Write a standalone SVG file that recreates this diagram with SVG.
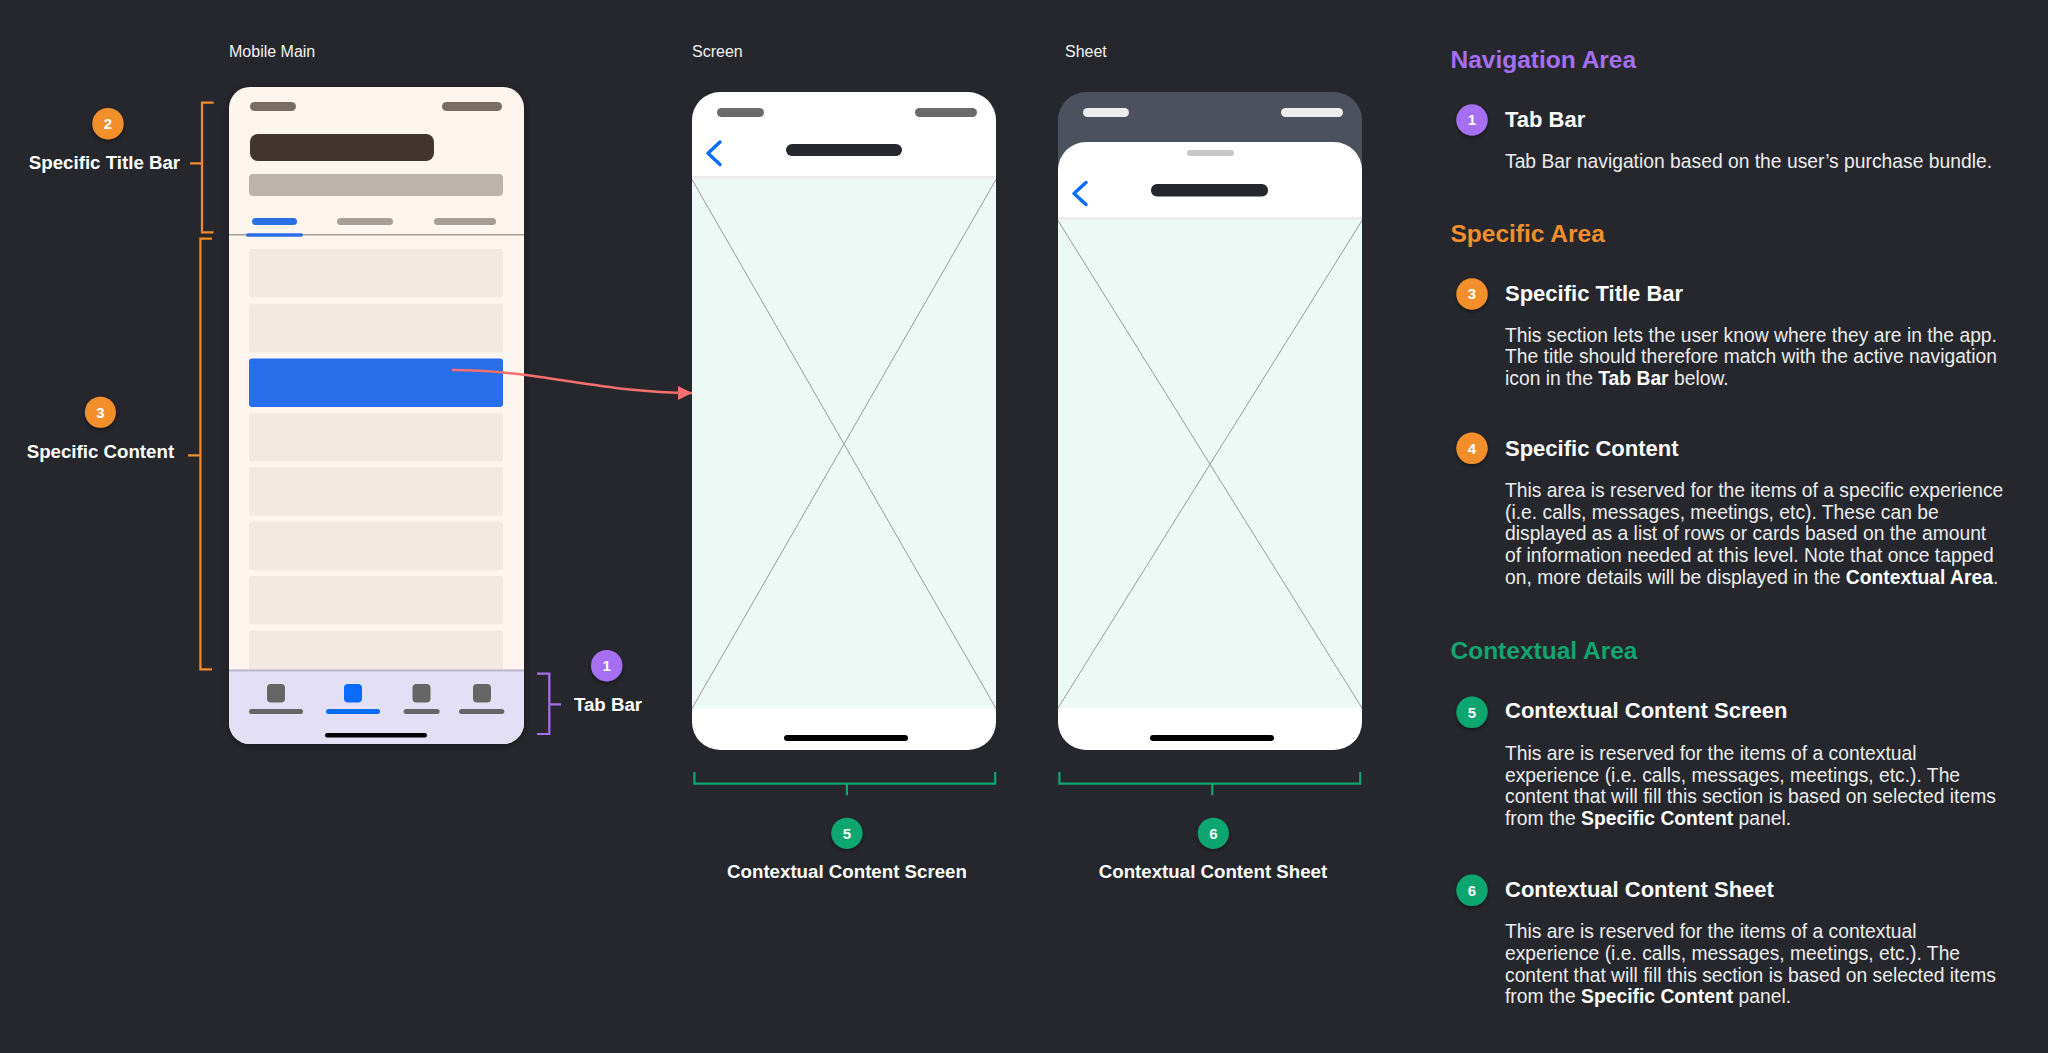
<svg xmlns="http://www.w3.org/2000/svg" width="2048" height="1053" viewBox="0 0 2048 1053">
<style>
text{font-family:"Liberation Sans",Arial,sans-serif}
.cap{font-size:16px;fill:#f2f2f2}
.lbl{font-size:18.7px;font-weight:bold;fill:#ffffff;text-anchor:middle}
.num{font-size:15px;font-weight:bold;fill:#ffffff;text-anchor:middle}
.sec{font-size:24.5px;font-weight:bold}
.hd{font-size:22px;font-weight:bold;fill:#ffffff}
.ds{font-size:19.3px;fill:#ececec}
.b{font-weight:bold;fill:#ffffff}
.or{fill:#f28f2c}.pu{fill:#a66ef0}.gr{fill:#10a56f}
.brO{fill:none;stroke:#f28c28;stroke-width:2.2}
.brP{fill:none;stroke:#a66ef0;stroke-width:2.2}
.brG{fill:none;stroke:#10a56f;stroke-width:2.2}
.card{fill:#f2e9e3}
.xl{stroke:#9a9a9a;stroke-width:1;fill:none}
.mint{fill:#edf9f4}
</style>
<defs>
<filter id="sh" x="-50%" y="-50%" width="200%" height="200%">
<feDropShadow dx="0" dy="2" stdDeviation="2" flood-color="#000" flood-opacity="0.45"/>
</filter>
<filter id="psh" x="-10%" y="-10%" width="120%" height="120%">
<feDropShadow dx="0" dy="2" stdDeviation="4" flood-color="#000" flood-opacity="0.35"/>
</filter>
<clipPath id="cMain"><rect x="229" y="87" width="295" height="657" rx="21"/></clipPath>
<clipPath id="cScreen"><rect x="692" y="92" width="304" height="658" rx="28"/></clipPath>
<clipPath id="cSheet"><rect x="1058" y="92" width="304" height="658" rx="28"/></clipPath>
<marker id="arr" markerUnits="userSpaceOnUse" markerWidth="14" markerHeight="14" refX="14" refY="7" orient="auto">
<path d="M0,0 L14,7 L0,14 z" fill="#f7706f"/>
</marker>
</defs>
<rect width="2048" height="1053" fill="#25272c"/>

<!-- Frame captions -->
<text class="cap" x="229" y="57">Mobile Main</text>
<text class="cap" x="692" y="57">Screen</text>
<text class="cap" x="1065" y="57">Sheet</text>

<!-- Mobile Main phone -->
<g id="mobile-main">
<rect x="229" y="87" width="295" height="657" rx="21" fill="#fff5ef" filter="url(#psh)"/>
<g clip-path="url(#cMain)">
<rect x="250" y="102" width="46" height="9" rx="4.5" fill="#7a6d64"/>
<rect x="442" y="102" width="60" height="9" rx="4.5" fill="#7a6d64"/>
<rect x="250" y="134" width="184" height="27" rx="8" fill="#43362f"/>
<rect x="249" y="174" width="254" height="22" rx="4" fill="#beb4ab"/>
<rect x="252" y="218" width="45" height="7" rx="3.5" fill="#2a6fe8"/>
<rect x="337" y="218" width="56" height="7" rx="3.5" fill="#a89e98"/>
<rect x="434" y="218" width="62" height="7" rx="3.5" fill="#a89e98"/>
<rect x="229" y="234" width="295" height="1.5" fill="#a89e98"/>
<rect x="246" y="233.3" width="57" height="3.4" rx="1.7" fill="#2a6fe8"/>
<rect class="card" x="249" y="249" width="254" height="48.5" rx="3"/>
<rect class="card" x="249" y="303.7" width="254" height="48.5" rx="3"/>
<rect x="249" y="358.5" width="254" height="48.5" rx="3" fill="#276eea"/>
<rect class="card" x="249" y="413" width="254" height="48.5" rx="3"/>
<rect class="card" x="249" y="467.3" width="254" height="48.5" rx="3"/>
<rect class="card" x="249" y="521.7" width="254" height="48.5" rx="3"/>
<rect class="card" x="249" y="576" width="254" height="48.5" rx="3"/>
<rect class="card" x="249" y="630.5" width="254" height="48.5" rx="3"/>
<rect x="229" y="669.5" width="295" height="80" fill="#e3dff5"/>
<rect x="229" y="669.5" width="295" height="2" fill="#bcb5cf"/>
<rect x="267" y="684" width="18" height="18.5" rx="4" fill="#666666"/>
<rect x="344" y="684" width="18" height="18.5" rx="4" fill="#0a6cff"/>
<rect x="412.5" y="684" width="18" height="18.5" rx="4" fill="#666666"/>
<rect x="473" y="684" width="18" height="18.5" rx="4" fill="#666666"/>
<rect x="249" y="709" width="54" height="5" rx="2.5" fill="#666666"/>
<rect x="326" y="709" width="54" height="5" rx="2.5" fill="#0a6cff"/>
<rect x="403.6" y="709" width="36" height="5" rx="2.5" fill="#666666"/>
<rect x="459" y="709" width="45.3" height="5" rx="2.5" fill="#666666"/>
<rect x="325" y="733" width="102" height="4.5" rx="2.25" fill="#000000"/>
</g>
</g>

<!-- Screen phone -->
<g id="screen">
<rect x="692" y="92" width="304" height="658" rx="28" fill="#ffffff"/>
<g clip-path="url(#cScreen)">
<rect x="717" y="108" width="47" height="9" rx="4.5" fill="#6b6b6b"/>
<rect x="915" y="108" width="62" height="9" rx="4.5" fill="#6b6b6b"/>
<polyline points="720,142 708,153.3 720,164.5" fill="none" stroke="#0a6cff" stroke-width="3.5" stroke-linecap="round" stroke-linejoin="round"/>
<rect x="786" y="144" width="116" height="12" rx="6" fill="#25272c"/>
<rect x="692" y="176" width="304" height="3.5" fill="#ececec"/>
<rect class="mint" x="692" y="179.5" width="304" height="529"/>
<line class="xl" x1="692" y1="179.5" x2="996" y2="708.5"/>
<line class="xl" x1="996" y1="179.5" x2="692" y2="708.5"/>
<rect x="784" y="735" width="124" height="6" rx="3" fill="#000000"/>
</g>
</g>

<!-- Sheet phone -->
<g id="sheet">
<rect x="1058" y="92" width="304" height="658" rx="28" fill="#4b525d"/>
<g clip-path="url(#cSheet)">
<rect x="1083" y="108" width="46" height="9" rx="4.5" fill="#ececec"/>
<rect x="1281" y="108" width="62" height="9" rx="4.5" fill="#ececec"/>
<rect x="1058" y="142" width="304" height="640" rx="28" fill="#ffffff"/>
<rect x="1187" y="150" width="47" height="6" rx="3" fill="#c8c8c8"/>
<polyline points="1086,182.5 1074,193.5 1086,204.5" fill="none" stroke="#0a6cff" stroke-width="3.5" stroke-linecap="round" stroke-linejoin="round"/>
<rect x="1151" y="184" width="117" height="12.5" rx="6" fill="#25272c"/>
<rect x="1058" y="217" width="304" height="3.5" fill="#ececec"/>
<rect class="mint" x="1058" y="220.5" width="304" height="487.5"/>
<line class="xl" x1="1058" y1="220.5" x2="1362" y2="708"/>
<line class="xl" x1="1362" y1="220.5" x2="1058" y2="708"/>
<rect x="1150" y="735" width="124" height="6" rx="3" fill="#000000"/>
</g>
</g>

<!-- Left annotations -->
<g id="ann-title-bar">
<path class="brO" d="M213.6,102.7 H202 V232.3 H213.6 M202,163.3 H190"/>
<circle cx="108" cy="123.7" r="15.7" class="or" filter="url(#sh)"/>
<text class="num" x="108" y="129">2</text>
<text class="lbl" x="104.5" y="169">Specific Title Bar</text>
</g>
<g id="ann-specific-content">
<path class="brO" d="M212,238.7 H200.4 V669.3 H212 M200.4,455.3 H188"/>
<circle cx="100.4" cy="412.3" r="15.5" class="or" filter="url(#sh)"/>
<text class="num" x="100.4" y="417.6">3</text>
<text class="lbl" x="100.4" y="457.7">Specific Content</text>
</g>
<g id="ann-tab-bar">
<path class="brP" d="M537,673.7 H549.3 V734 H537 M549.3,704.3 H561"/>
<circle cx="606.7" cy="665.7" r="15.7" class="pu" filter="url(#sh)"/>
<text class="num" x="606.7" y="671">1</text>
<text class="lbl" x="608" y="710.7">Tab Bar</text>
</g>
<g id="ann-ctx-screen">
<path class="brG" d="M694.4,772 V783.7 H995.2 V772 M846.9,783.7 V795.3"/>
<circle cx="846.9" cy="833.3" r="15.6" class="gr" filter="url(#sh)"/>
<text class="num" x="846.9" y="838.6">5</text>
<text class="lbl" x="847" y="878.3">Contextual Content Screen</text>
</g>
<g id="ann-ctx-sheet">
<path class="brG" d="M1059.4,772 V783.7 H1360.2 V772 M1212.3,783.7 V795.3"/>
<circle cx="1213.3" cy="833.3" r="15.6" class="gr" filter="url(#sh)"/>
<text class="num" x="1213.3" y="838.6">6</text>
<text class="lbl" x="1213" y="878.3">Contextual Content Sheet</text>
</g>

<!-- Connectors -->
<g id="connectors">
<path d="M452,370 C540,370 600,393 692,393" fill="none" stroke="#f7706f" stroke-width="2.5" marker-end="url(#arr)"/>
</g>

<!-- Right legend -->
<g id="legend-navigation">
<text class="sec pu" x="1450.5" y="68">Navigation Area</text>
</g>
<g id="legend-1">
<circle cx="1472" cy="120" r="15.7" class="pu" filter="url(#sh)"/>
<text class="num" x="1472" y="125.3">1</text>
<text class="hd" x="1505" y="127.3">Tab Bar</text>
<text class="ds" x="1505" y="167.7">Tab Bar navigation based on the user’s purchase bundle.</text>
</g>
<g id="legend-specific">
<text class="sec or" x="1450.5" y="241.7">Specific Area</text>
</g>
<g id="legend-3">
<circle cx="1472" cy="294" r="15.7" class="or" filter="url(#sh)"/>
<text class="num" x="1472" y="299.3">3</text>
<text class="hd" x="1505" y="301">Specific Title Bar</text>
<text class="ds" x="1505" y="341.7">This section lets the user know where they are in the app.</text>
<text class="ds" x="1505" y="363.4">The title should therefore match with the active navigation</text>
<text class="ds" x="1505" y="385.1">icon in the <tspan class="b">Tab Bar</tspan> below.</text>
</g>
<g id="legend-4">
<circle cx="1472" cy="448.3" r="15.7" class="or" filter="url(#sh)"/>
<text class="num" x="1472" y="453.6">4</text>
<text class="hd" x="1505" y="456">Specific Content</text>
<text class="ds" x="1505" y="496.7">This area is reserved for the items of a specific experience</text>
<text class="ds" x="1505" y="518.5">(i.e. calls, messages, meetings, etc). These can be</text>
<text class="ds" x="1505" y="540.3">displayed as a list of rows or cards based on the amount</text>
<text class="ds" x="1505" y="562.1">of information needed at this level. Note that once tapped</text>
<text class="ds" x="1505" y="584">on, more details will be displayed in the <tspan class="b">Contextual Area</tspan>.</text>
</g>
<g id="legend-contextual">
<text class="sec gr" x="1450.5" y="659">Contextual Area</text>
</g>
<g id="legend-5">
<circle cx="1472" cy="712.3" r="15.7" class="gr" filter="url(#sh)"/>
<text class="num" x="1472" y="717.6">5</text>
<text class="hd" x="1505" y="718.3">Contextual Content Screen</text>
<text class="ds" x="1505" y="760">This are is reserved for the items of a contextual</text>
<text class="ds" x="1505" y="781.7">experience (i.e. calls, messages, meetings, etc.). The</text>
<text class="ds" x="1505" y="803.4">content that will fill this section is based on selected items</text>
<text class="ds" x="1505" y="825.1">from the <tspan class="b">Specific Content</tspan> panel.</text>
</g>
<g id="legend-6">
<circle cx="1472" cy="890.3" r="15.7" class="gr" filter="url(#sh)"/>
<text class="num" x="1472" y="895.6">6</text>
<text class="hd" x="1505" y="896.7">Contextual Content Sheet</text>
<text class="ds" x="1505" y="938.3">This are is reserved for the items of a contextual</text>
<text class="ds" x="1505" y="960">experience (i.e. calls, messages, meetings, etc.). The</text>
<text class="ds" x="1505" y="981.7">content that will fill this section is based on selected items</text>
<text class="ds" x="1505" y="1003.4">from the <tspan class="b">Specific Content</tspan> panel.</text>
</g>
</svg>
